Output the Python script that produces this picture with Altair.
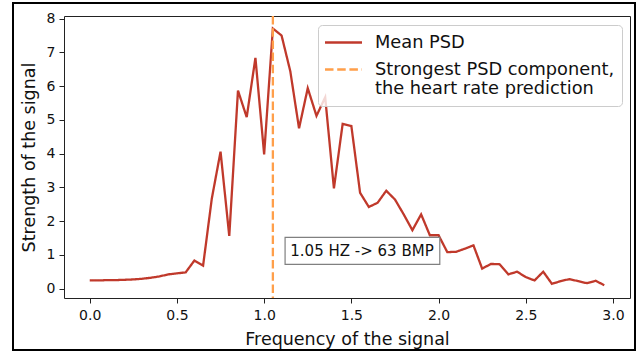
import altair as alt
import pandas as pd

# ---------------- data ----------------
freq = [0.00, 0.05, 0.10, 0.15, 0.20, 0.25, 0.30, 0.35, 0.40, 0.45,
        0.50, 0.55, 0.60, 0.65, 0.70, 0.75, 0.80, 0.85, 0.90, 0.95,
        1.00, 1.05, 1.10, 1.15, 1.20, 1.25, 1.30, 1.35, 1.40, 1.45,
        1.50, 1.55, 1.60, 1.65, 1.70, 1.75, 1.80, 1.85, 1.90, 1.95,
        2.00, 2.05, 2.10, 2.15, 2.20, 2.25, 2.30, 2.35, 2.40, 2.45,
        2.50, 2.55, 2.60, 2.65, 2.70, 2.75, 2.80, 2.85, 2.90, 2.95]
psd = [0.24, 0.24, 0.25, 0.25, 0.26, 0.27, 0.29, 0.32, 0.36, 0.42,
       0.45, 0.48, 0.83, 0.68, 2.67, 4.06, 1.56, 5.87, 5.08, 6.84,
       3.98, 7.71, 7.50, 6.44, 4.75, 5.94, 5.12, 5.67, 2.97, 4.88,
       4.82, 2.84, 2.42, 2.54, 2.90, 2.64, 2.20, 1.73, 2.20, 1.58,
       1.58, 1.08, 1.09, 1.18, 1.28, 0.59, 0.73, 0.72, 0.42, 0.50,
       0.34, 0.24, 0.50, 0.14, 0.22, 0.28, 0.22, 0.16, 0.23, 0.10]
series_names = ["Mean PSD", "Strongest PSD component,|the heart rate prediction"]
series_colors = ["#c0392b", "#ff9f4a"]
peak_freq = [1.05]
x_ticks = [0.0, 0.5, 1.0, 1.5, 2.0, 2.5, 3.0]
y_ticks = [0, 1, 2, 3, 4, 5, 6, 7, 8]
annot_text = ["1.05 HZ -> 63 BMP"]

# ---------------- layout constants ----------------
W, H = 566, 282
FONT = "DejaVu Sans"

line_df = pd.DataFrame({"freq": freq, "psd": psd, "series": series_names[0]})
rule_df = pd.DataFrame({"freq": peak_freq, "series": [series_names[1]]})
annot_df = pd.DataFrame({"x": [1.15], "y": [1.116], "t": annot_text,
                         "bx1": [1.12], "bx2": [2.007], "by1": [0.714], "by2": [1.518]})

xs = alt.Scale(domain=[-0.1475, 3.0975], nice=False, zero=False)
ys = alt.Scale(domain=[-0.28, 8.08], nice=False, zero=False)
cs = alt.Scale(domain=series_names, range=series_colors)
ds = alt.Scale(domain=series_names, range=[[1, 0], [8.5, 3.7]])

leg = alt.Legend(
    title=None, orient="none", legendX=254, legendY=9,
    fillColor="rgba(255,255,255,0.8)", strokeColor="#cccccc", cornerRadius=4,
    padding=7, symbolType="M-2,0H2", symbolSize=342, symbolStrokeWidth=2.3,
    symbolOffset=8, symbolFillColor="transparent",
    labelFontSize=17.8, labelFont=FONT, labelColor="#111", labelLimit=400,
    labelOffset=21, rowPadding=7, labelExpr="split(datum.label, '|')",
)

xaxis = alt.Axis(values=x_ticks, format=".1f", title="Frequency of the signal",
                 labelFontSize=14, titleFontSize=17.5, tickSize=5, domain=False,
                 grid=False, labelPadding=5, titlePadding=8, labelColor="#111",
                 titleColor="#111", tickColor="#222", titleFontWeight="normal")
yaxis = alt.Axis(values=y_ticks, format="d", title="Strength of the signal",
                 labelFontSize=14, titleFontSize=17.5, tickSize=5, domain=False,
                 grid=False, labelPadding=4, titlePadding=8, labelColor="#111",
                 titleColor="#111", tickColor="#222", titleFontWeight="normal")

line = alt.Chart(line_df).mark_line(strokeWidth=2.3).encode(
    x=alt.X("freq:Q", scale=xs, axis=xaxis),
    y=alt.Y("psd:Q", scale=ys, axis=yaxis),
    color=alt.Color("series:N", scale=cs, legend=leg),
    strokeDash=alt.StrokeDash("series:N", scale=ds, legend=leg),
)

rule = alt.Chart(rule_df).mark_rule(strokeWidth=2.3).encode(
    x=alt.X("freq:Q", scale=xs, axis=xaxis),
    color=alt.Color("series:N", scale=cs, legend=leg),
    strokeDash=alt.StrokeDash("series:N", scale=ds, legend=leg),
)

box = alt.Chart(annot_df).mark_rect(fill="white", stroke="#808080", strokeWidth=1.2).encode(
    x=alt.X("bx1:Q", scale=xs, axis=xaxis), x2="bx2:Q",
    y=alt.Y("by1:Q", scale=ys, axis=yaxis), y2="by2:Q",
)

txt = alt.Chart(annot_df).mark_text(align="left", baseline="middle", fontSize=15,
                                    font=FONT, color="#111").encode(
    x=alt.X("x:Q", scale=xs, axis=xaxis),
    y=alt.Y("y:Q", scale=ys, axis=yaxis),
    text="t:N",
)

border = alt.Chart(alt.Data(values=[{}])).mark_rect(
    fill="transparent", stroke="black", strokeWidth=2
).encode(x=alt.value(-51), x2=alt.value(571), y=alt.value(-13), y2=alt.value(334))

chart = alt.layer(line, rule, box, txt, border).properties(
    width=W, height=H,
    autosize=alt.AutoSizeParams(type="none"),
    padding={"left": 64, "top": 16, "right": 7, "bottom": 54},
).configure(font=FONT).configure_view(
    stroke="#222", strokeWidth=1
)

chart.save("out.html", embed_options={"renderer": "svg", "actions": False})
